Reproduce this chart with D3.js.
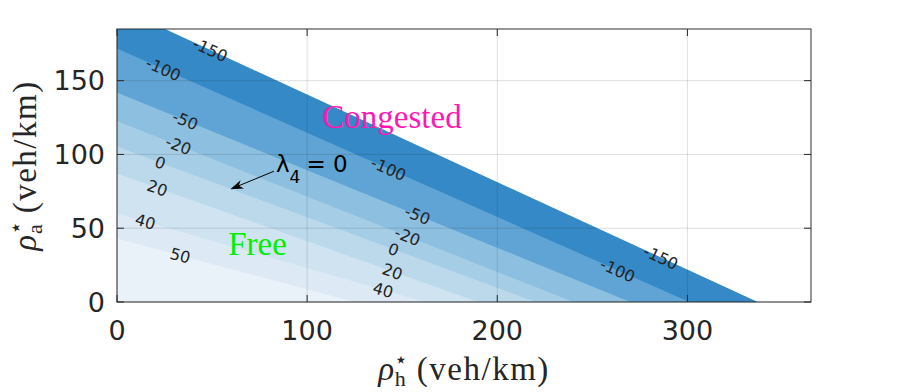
<!DOCTYPE html>
<html>
<head>
<meta charset="utf-8">
<script src="https://cdn.jsdelivr.net/npm/d3@7"></script>
<style>
body{margin:0;background:#fff}
</style>
</head>
<body>
<svg id="chart" width="897" height="392"></svg>
<script>
// lambda_4 contour levels, each level line given by where it meets the two axes
const levels = [-150, -100, -50, -20, 0, 20, 40, 50];
const rhoAAtZero = [200, 171.8, 141.9, 122.6, 105.4, 87, 60, 43];  // rho_a at rho_h = 0
const rhoHAtZero = [337, 301, 270, 240, 220, 190, 162, 125];       // rho_h at rho_a = 0

// clabel positions (level, rho_h along that level line)
const labelLevels = [-150, -150, -100, -100, -100, -50, -50, -20, -20, 0, 0, 20, 20, 40, 40, 50];
const labelRhoH = [49, 286, 24.4, 142.8, 263.3, 35.9, 158, 32.3, 152.8, 22.8, 145.4, 21.2, 144.9, 14.9, 140, 33.3];

const xTicks = [0, 100, 200, 300];
const yTicks = [0, 50, 100, 150];

// band colours, darkest (just above -150) to lightest (above 50)
const bandColors = ["#3489c6", "#5fa4d4", "#8cbfe0", "#a5cde6", "#bcd9ec", "#d0e3f1", "#dde9f5", "#e9f1f9"];

init();
function init(){
    let svg = d3.select("#chart");
    let left = 117, right = 811, top = 29, bottom = 302;

    let x = d3.scaleLinear().domain([0, 365]).range([left, right]);
    let y = d3.scaleLinear().domain([0, 185]).range([bottom, top]);

    svg.append("defs").append("clipPath").attr("id", "plot")
        .append("rect")
        .attr("x", left).attr("y", top)
        .attr("width", right - left).attr("height", bottom - top);

    let line = d3.line().x(d => x(d[0])).y(d => y(d[1]));

    //填充等值带：先画最深的，再逐层覆盖
    let bands = svg.append("g").attr("clip-path", "url(#plot)");
    levels.forEach((lv, i) => {
        bands.append("path")
            .attr("d", line([[0, 0], [0, rhoAAtZero[i]], [rhoHAtZero[i], 0]]) + "Z")
            .attr("fill", bandColors[i]);
    });

    //网格
    let grid = svg.append("g")
        .attr("stroke", "#262626")
        .attr("stroke-opacity", 0.15)
        .attr("stroke-width", 1);
    xTicks.forEach(t => {
        grid.append("line")
            .attr("x1", x(t)).attr("x2", x(t))
            .attr("y1", top).attr("y2", bottom);
    });
    yTicks.forEach(t => {
        grid.append("line")
            .attr("x1", left).attr("x2", right)
            .attr("y1", y(t)).attr("y2", y(t));
    });

    //等值线标注
    let labels = svg.append("g")
        .attr("font-family", "DejaVu Sans")
        .attr("font-size", 16)
        .attr("fill", "#222")
        .attr("text-anchor", "middle");
    labelLevels.forEach((lv, k) => {
        let i = levels.indexOf(lv);
        let a = rhoAAtZero[i], b = rhoHAtZero[i];
        let h = labelRhoH[k];
        let v = a * (1 - h / b);
        let ang = Math.atan2(y(0) - y(a), x(b) - x(0)) * 180 / Math.PI;
        labels.append("text")
            .attr("transform", "translate(" + x(h) + "," + y(v) + ") rotate(" + ang + ")")
            .attr("dy", "0.36em")
            .text(lv);
    });

    // 区域文字
    svg.append("text")
        .attr("x", x(108)).attr("y", y(117.7))
        .attr("font-family", "Liberation Serif")
        .attr("font-size", 33)
        .attr("fill", "#ff19b4")
        .text("Congested");
    svg.append("text")
        .attr("x", x(58.5)).attr("y", y(31.8))
        .attr("font-family", "Liberation Serif")
        .attr("font-size", 33)
        .attr("fill", "#00ee00")
        .text("Free");

    // lambda_4 = 0 with arrow
    let lam = svg.append("text")
        .attr("x", x(83.6)).attr("y", y(88))
        .attr("font-family", "DejaVu Sans")
        .attr("font-size", 23)
        .attr("fill", "#000");
    lam.append("tspan").text("λ");
    lam.append("tspan").attr("font-size", 17).attr("dy", 11).text("4");
    lam.append("tspan").attr("dy", -11).attr("dx", 6).text("= 0");

    let tail = [x(82.5), y(88.6)], head = [x(59.6), y(76.4)];
    let dx = head[0] - tail[0], dy = head[1] - tail[1];
    let len = Math.sqrt(dx * dx + dy * dy);
    let ux = dx / len, uy = dy / len, px = -uy, py = ux;
    let hl = 13, hw = 4.5;
    let base = [head[0] - ux * hl, head[1] - uy * hl];
    let notch = [head[0] - ux * hl * 0.7, head[1] - uy * hl * 0.7];
    svg.append("line")
        .attr("x1", tail[0]).attr("y1", tail[1])
        .attr("x2", notch[0]).attr("y2", notch[1])
        .attr("stroke", "#000").attr("stroke-width", 1);
    svg.append("path")
        .attr("d", "M" + head[0] + "," + head[1] +
            "L" + (base[0] + px * hw) + "," + (base[1] + py * hw) +
            "L" + notch[0] + "," + notch[1] +
            "L" + (base[0] - px * hw) + "," + (base[1] - py * hw) + "Z")
        .attr("fill", "#000");

    //坐标框与刻度
    let axisColor = "#262626";
    svg.append("rect")
        .attr("x", left).attr("y", top)
        .attr("width", right - left).attr("height", bottom - top)
        .attr("fill", "none")
        .attr("stroke", axisColor)
        .attr("stroke-opacity", 0.8)
        .attr("stroke-width", 1.2);

    let tl = 7;
    let ticks = svg.append("g").attr("stroke", axisColor).attr("stroke-width", 1);
    xTicks.forEach(t => {
        ticks.append("line").attr("x1", x(t)).attr("x2", x(t)).attr("y1", bottom).attr("y2", bottom - tl);
        ticks.append("line").attr("x1", x(t)).attr("x2", x(t)).attr("y1", top).attr("y2", top + tl);
    });
    yTicks.forEach(t => {
        ticks.append("line").attr("x1", left).attr("x2", left + tl).attr("y1", y(t)).attr("y2", y(t));
        ticks.append("line").attr("x1", right).attr("x2", right - tl).attr("y1", y(t)).attr("y2", y(t));
    });

    let tickText = svg.append("g")
        .attr("font-family", "DejaVu Sans")
        .attr("font-size", 27)
        .attr("fill", axisColor);
    xTicks.forEach(t => {
        tickText.append("text")
            .attr("x", x(t)).attr("y", 340)
            .attr("text-anchor", "middle")
            .text(t);
    });
    yTicks.forEach(t => {
        tickText.append("text")
            .attr("x", left - 12).attr("y", y(t))
            .attr("dy", "0.36em")
            .attr("text-anchor", "end")
            .text(t);
    });

    // axis titles (latex style)
    axisTitle(svg.append("text")
        .attr("transform", "translate(" + ((left + right) / 2) + ",380)"), "h");
    axisTitle(svg.append("text")
        .attr("transform", "translate(36," + ((top + bottom) / 2) + ") rotate(-90)"), "a");
}

function axisTitle(t, sub) {
    t.attr("text-anchor", "middle")
        .attr("font-family", "Liberation Serif")
        .attr("font-size", 33)
        .attr("fill", "#262626");
    t.append("tspan").attr("font-style", "italic").text("ρ");
    t.append("tspan").attr("font-family", "DejaVu Sans").attr("font-size", 22).attr("dy", -13).attr("dx", 0).text("⋆");
    t.append("tspan").attr("font-size", 22).attr("dy", 19).attr("dx", -13).text(sub);
    t.append("tspan").attr("dy", -6).attr("dx", 11).attr("letter-spacing", 1.5).text("(veh/km)");
}
</script>
</body>
</html>
